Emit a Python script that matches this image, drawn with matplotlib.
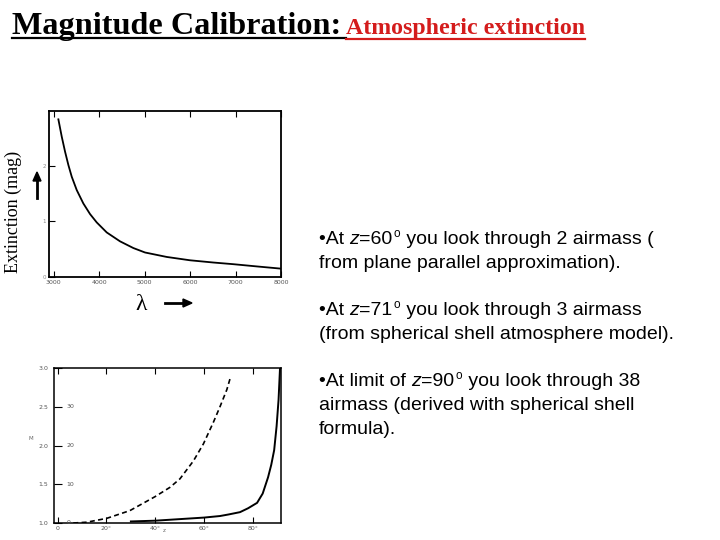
import matplotlib
matplotlib.use("Agg")
import matplotlib.pyplot as plt
from matplotlib.lines import Line2D

# extinction vs wavelength (upper panel)
wavelength = [3106, 3180, 3253, 3326, 3400, 3510, 3655, 3802, 3949, 4169,
              4462, 4754, 5011, 5488, 6000, 6512, 6952, 7466, 8000]
extinction = [2.83, 2.52, 2.25, 2.01, 1.80, 1.56, 1.32, 1.13, 0.98, 0.80,
              0.64, 0.52, 0.44, 0.36, 0.30, 0.26, 0.23, 0.19, 0.15]
wl_ticks = [3000, 4000, 5000, 6000, 7000, 8000]
wl_labels = ['3000', '4000', '5000', '6000', '7000', '8000']

# airmass vs zenith angle (lower panel)
z_plane = [6.4, 11.9, 20.1, 29.6, 39.9, 46.0, 50.1, 55.6, 59.7, 63.8, 66.5, 69.3, 70.7]
x_plane = [1.0, 1.01, 1.06, 1.16, 1.34, 1.46, 1.57, 1.80, 2.02, 2.30, 2.50, 2.72, 2.87]
z_shell = [30, 40, 50, 60, 66.5, 70, 74.7, 78, 81.7, 84, 86.2, 87.5, 88.7, 89.7, 90.5, 91.1]
x_shell = [1.02, 1.03, 1.05, 1.07, 1.09, 1.11, 1.14, 1.19, 1.26, 1.38, 1.59, 1.75, 1.94, 2.25, 2.59, 3.0]
z_ticks = [0, 20, 40, 60, 80]
z_labels = ['0', '20°', '40°', '60°', '80°']
m_ticks = [1.0, 1.5, 2.0, 2.5, 3.0]
m_labels = ['1.0', '1.5', '2.0', '2.5', '3.0']
inner_labels = ['0', '10', '20', '30']

# bullet text: runs of (text, style) where style is 'n', 'i' (italic) or 's' (superscript)
bullets = [
    [[("•At ", 'n'), ("z", 'i'), ("=60", 'n'), ("o", 's'), (" you look through 2 airmass (", 'n')],
     [("from plane parallel approximation).", 'n')]],
    [[("•At ", 'n'), ("z", 'i'), ("=71", 'n'), ("o", 's'), (" you look through 3 airmass", 'n')],
     [("(from spherical shell atmosphere model).", 'n')]],
    [[("•At limit of ", 'n'), ("z", 'i'), ("=90", 'n'), ("o", 's'), (" you look through 38", 'n')],
     [("airmass (derived with spherical shell", 'n')],
     [("formula).", 'n')]],
]
bullet_y = [239, 310, 381]

W, H = 720, 540
fig = plt.figure(figsize=(7.2, 5.4), dpi=100)
r = fig.canvas.get_renderer()


def fx(x):
    return x / W


def fy(y):
    return 1 - y / H


# title
serif = 'Liberation Serif'
red = '#d41c1c'
t1 = fig.text(fx(12), fy(34), "Magnitude Calibration:", family=serif,
              weight='bold', size=23.2, va='baseline', ha='left')
bb1 = t1.get_window_extent(r)
t2 = fig.text(bb1.x1 / W + fx(5), fy(34), "Atmospheric extinction",
              family=serif, weight='bold', size=17.2, color=red,
              va='baseline', ha='left')
bb2 = t2.get_window_extent(r)
fig.add_artist(Line2D([bb1.x0 / W, bb1.x1 / W + fx(5)], [fy(38), fy(38)],
                      color='black', lw=1.6, transform=fig.transFigure))
fig.add_artist(Line2D([bb2.x0 / W, bb2.x1 / W], [fy(39), fy(39)],
                      color=red, lw=1.6, transform=fig.transFigure))

# upper panel
ax1 = fig.add_axes([fx(49), fy(277), 232 / W, 166 / H])
ax1.plot(wavelength, extinction, color='black', lw=1.3)
ax1.set_xlim(2900, 8000)
ax1.set_ylim(0, 2.98)
ax1.set_xticks(wl_ticks)
ax1.set_xticklabels(wl_labels, fontsize=4.5, color='#555555')
ax1.set_yticks([0, 1, 2])
ax1.set_yticklabels(['0', '1', '2'], fontsize=4, color='#888888')
ax1.tick_params(direction='in', length=4, top=True, pad=2)
for s in ax1.spines.values():
    s.set_linewidth(1.3)

fig.text(fx(13), fy(212), "Extinction (mag)", family=serif, size=13,
         rotation=90, ha='center', va='center')
fig.add_artist(Line2D([fx(37)] * 2, [fy(198), fy(180)], color='black',
                      lw=2, transform=fig.transFigure))
fig.add_artist(plt.Polygon([[fx(33), fy(181)], [fx(41), fy(181)],
                            [fx(37), fy(172)]], closed=True,
                           color='black', transform=fig.transFigure))

fig.text(fx(141), fy(304), "λ", family=serif, size=17,
         ha='center', va='center')
fig.add_artist(Line2D([fx(165), fx(184)], [fy(303)] * 2, color='black',
                      lw=2, transform=fig.transFigure))
fig.add_artist(plt.Polygon([[fx(183), fy(299)], [fx(183), fy(307)],
                            [fx(192), fy(303)]], closed=True,
                           color='black', transform=fig.transFigure))

# lower panel
ax2 = fig.add_axes([fx(54), fy(523), 227 / W, 155 / H])
ax2.plot(z_plane, x_plane, color='black', lw=1.2, ls=(0, (3, 2)))
ax2.plot(z_shell, x_shell, color='black', lw=1.4)
ax2.set_xlim(-1.5, 91.5)
ax2.set_ylim(1.0, 3.0)
ax2.set_xticks(z_ticks)
ax2.set_xticklabels(z_labels, fontsize=4.5, color='#555555')
ax2.set_yticks(m_ticks)
ax2.set_yticklabels(m_labels, fontsize=4.5, color='#555555')
ax2.tick_params(direction='in', length=4, top=True, pad=2)
ax2.tick_params(axis='y', direction='in', length=6, pad=4)
for s in ax2.spines.values():
    s.set_linewidth(1.1)
for val, lab in zip(m_ticks[:4], inner_labels):
    ax2.text(0.055, val, lab, transform=ax2.get_yaxis_transform(),
             fontsize=4.5, color='#555555', va='center', ha='left')
fig.text(fx(31), fy(438), "M", fontsize=4, color='#666666',
         ha='center', va='center')
fig.text(fx(164), fy(531), "z", fontsize=4, color='#666666',
         ha='center', va='center')

# bullet text
sans = 'Liberation Sans'
for ytop, lines in zip(bullet_y, bullets):
    for i, runs in enumerate(lines):
        base = ytop + 24 * i + 5
        x = 319
        for txt, style in runs:
            if style == 's':
                t = fig.text(fx(x + 1), fy(base - 7), txt, family=sans,
                             size=8.5, ha='left', va='baseline')
            else:
                t = fig.text(fx(x), fy(base), txt, family=sans, size=14,
                             style='italic' if style == 'i' else 'normal',
                             ha='left', va='baseline')
            x = t.get_window_extent(r).x1 + (1 if style == 's' else 0)

fig.savefig("out.png", dpi=100)
